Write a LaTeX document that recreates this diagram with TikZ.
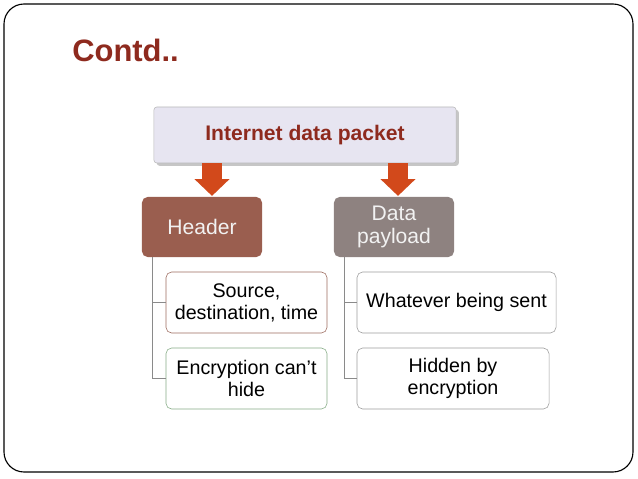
\documentclass[tikz,border=0pt]{standalone}
\usepackage{fontspec}
\setmainfont{Liberation Sans}
\usepackage{tikz}
\usetikzlibrary{arrows.meta}
\usetikzlibrary{calc}
\usetikzlibrary{shadows}
\definecolor{titlered}{HTML}{8E2A1E}
\definecolor{arroworange}{HTML}{D2491B}
\definecolor{headerbrown}{HTML}{9A5E4F}
\definecolor{payloadgray}{HTML}{8E8280}
\definecolor{packetfill}{HTML}{E7E5F1}
\definecolor{srcedge}{HTML}{9C6B5E}
\definecolor{encedge}{HTML}{86AC86}
\definecolor{grayedge}{HTML}{9C9C9C}
\definecolor{treeline}{HTML}{8A8A8A}
\tikzset{packet/.style = {draw = gray!55, fill = packetfill, rounded corners = 2pt,
                          minimum width = 7.55cm, minimum height = 1.4cm,
                          font = \fontsize{15}{17}\selectfont\bfseries, text = titlered,
                          drop shadow = {opacity = .45, shadow xshift = .07cm, shadow yshift = -.07cm}}}
\tikzset{level/.style = {rounded corners = 4pt, minimum width = 3cm, minimum height = 1.5cm,
                         align = center, text = white!95!black, font = \fontsize{15}{16.5}\selectfont}}
\tikzset{leaf/.style = {draw, fill = white, rounded corners = 4pt, minimum height = 1.525cm,
                        align = center, inner sep = 2pt, font = \fontsize{14}{15.6}\selectfont}}
\tikzset{fat/.style = {draw = arroworange, line width = .5cm,
                       -{Triangle[width = .85cm, length = .42cm]}}}
\tikzset{branch/.style = {draw = treeline, line width = .6pt}}

\begin{document}
\begin{tikzpicture}[x = .025cm, y = -.025cm]
          \useasboundingbox (0, 0) rectangle (638, 479);
          \draw [line width = .8pt, rounded corners = .5cm] (4, 4) rectangle (633, 472);
          \node (title) [anchor = base west, inner sep = 0, text = titlered,
                         font = \fontsize{22}{24}\selectfont\bfseries] at (72, 62) {Contd..};
          \node (packet) [packet] at (305, 135) {Internet data packet};
          \node (header) [level, fill = headerbrown] at (202, 227) {Header};
          \node (payload) [level, fill = payloadgray] at (394, 227) {Data\\payload};
          \node (src) [leaf, draw = srcedge, minimum width = 4.025cm] at (246.5, 302.5)
                {Source,\\destination, time};
          \node (enc) [leaf, draw = encedge, minimum width = 4.025cm] at (246.5, 378.5)
                {Encryption can't\\hide};
          \node (sent) [leaf, draw = grayedge, minimum width = 4.975cm] at (456.5, 302.5)
                {Whatever being sent};
          \node (hidden) [leaf, draw = grayedge, minimum width = 4.8cm] at (453, 378.5)
                {Hidden by\\encryption};
          \coordinate (leftfoot) at ($(packet.south) + (-93, 0)$);
          \coordinate (rightfoot) at ($(packet.south) + (93, 0)$);
          \draw [fat] (leftfoot) -- ([yshift = .02cm]leftfoot |- header.north);
          \draw [fat] (rightfoot) -- ([yshift = .02cm]rightfoot |- payload.north);
          \draw [branch] ($(header.south west) + (11, 0)$) |- (src.west);
          \draw [branch] ($(header.south west) + (11, 0)$) |- (enc.west);
          \draw [branch] ($(payload.south west) + (11, 0)$) |- (sent.west);
          \draw [branch] ($(payload.south west) + (11, 0)$) |- (hidden.west);
        \end{tikzpicture}
\end{document}
